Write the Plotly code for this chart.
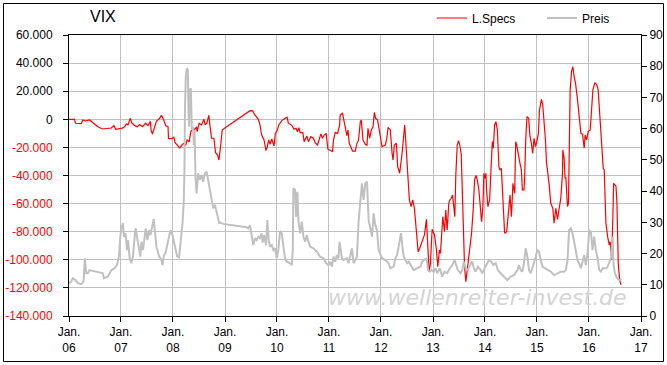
import plotly.graph_objects as go
import pandas as pd

# ---------------- data ----------------
# time as years elapsed since 1 Jan 2006
lspecs_years = [0.000,0.106,0.125,0.235,0.266,0.318,0.395,0.459,0.555,0.640,0.814,0.864,0.897,1.007,1.070,1.103,1.134,1.180,1.205,1.263,
1.315,1.359,1.411,1.475,1.519,1.566,1.577,1.604,1.649,1.681,1.745,1.778,1.822,1.861,1.905,1.913,1.971,2.015,2.040,2.098,
2.131,2.183,2.214,2.246,2.271,2.310,2.343,2.376,2.420,2.453,2.464,2.503,2.549,2.594,2.619,2.651,2.690,2.709,2.742,2.786,
2.819,2.858,2.883,2.916,2.946,3.031,3.417,3.481,3.533,3.571,3.641,3.673,3.706,3.751,3.789,3.814,3.841,3.866,3.899,3.943,
3.968,4.007,4.034,4.092,4.155,4.194,4.219,4.285,4.329,4.368,4.393,4.420,4.445,4.497,4.522,4.574,4.605,4.651,4.701,4.734,
4.778,4.817,4.844,4.875,4.907,4.946,4.979,5.068,5.087,5.120,5.164,5.203,5.216,5.260,5.293,5.318,5.345,5.364,5.390,5.422,
5.453,5.505,5.538,5.569,5.602,5.621,5.654,5.698,5.731,5.750,5.781,5.814,5.847,5.872,5.897,5.935,5.968,6.001,6.020,6.084,
6.117,6.136,6.180,6.213,6.232,6.257,6.296,6.321,6.359,6.406,6.437,6.456,6.475,6.502,6.514,6.546,6.579,6.610,6.643,6.676,
6.714,6.745,6.791,6.836,6.874,6.907,6.926,6.951,6.984,7.029,7.067,7.092,7.125,7.144,7.189,7.221,7.246,7.273,7.304,7.324,
7.351,7.376,7.401,7.420,7.439,7.466,7.491,7.516,7.543,7.555,7.582,7.607,7.632,7.671,7.709,7.742,7.775,7.800,7.825,7.852,
7.883,7.916,7.935,7.960,7.979,7.998,8.018,8.031,8.056,8.089,8.122,8.141,8.160,8.185,8.211,8.238,8.268,8.288,8.315,8.340,
8.378,8.417,8.461,8.481,8.508,8.538,8.571,8.591,8.610,8.635,8.654,8.673,8.700,8.720,8.750,8.764,8.783,8.808,8.841,8.866,
8.893,8.918,8.943,8.970,8.995,9.028,9.047,9.086,9.111,9.136,9.163,9.182,9.213,9.232,9.265,9.304,9.329,9.362,9.394,9.425,
9.458,9.491,9.497,9.522,9.541,9.555,9.587,9.606,9.618,9.638,9.664,9.690,9.715,9.742,9.780,9.819,9.844,9.877,9.908,9.927,
9.954,9.985,10.023,10.050,10.075,10.114,10.152,10.177,10.210,10.243,10.274,10.293,10.326,10.359,10.390,10.409,10.436,10.461,10.474,10.519,
10.538,10.563,10.590,10.615]

lspecs_values = [0,0,-2800,-3000,-500,-1200,-500,-2400,-5300,-6900,-6200,-4500,-7100,-6500,-5300,-3300,-4000,700,-2500,-4500,
-5300,-3800,-5300,-2800,-4500,-1400,-7500,-10500,-4500,-1400,700,2900,-500,-4700,-5300,-13800,-13800,-12800,-16600,-19000,
-20400,-17800,-17000,-18500,-14700,-16000,-8800,-6500,-7200,-5300,-8800,-2800,-4000,0,-4000,-2800,2900,-4000,-13500,-13500,
-23800,-25500,-29000,-19000,-7600,-5300,4700,6100,6000,3300,0,-4000,-11200,-14700,-22300,-19500,-14700,-17800,-14000,-19000,
-10000,-7600,-4000,-900,700,1500,-2800,-4300,-7100,-6400,-8800,-6000,-9500,-9500,-15900,-11900,-15900,-12400,-13500,-16600,
-18300,-14200,-10500,-13500,-11200,-10000,-21300,-23000,-14700,-9300,-10000,-4500,3100,4300,-1700,-8800,-11700,-7600,-17100,-19900,
-22600,-22600,-17100,-14700,-1700,-500,-14700,-17800,-18500,-6400,-13500,-7600,-5300,5000,700,-500,-7600,-17100,-19500,-18300,
-12400,-5700,-7600,-24200,-29000,-18300,-17100,-33700,-38400,-24200,-13500,-4000,-14700,-33700,-36000,-57400,-62200,-57400,-63300,-80000,
-94200,-91800,-87100,-82300,-71200,-90700,-108500,-102500,-78300,-82300,-93000,-104900,-93000,-95400,-69300,-80000,-64500,-78800,-59800,-57400,
-56200,-53900,-62200,-69300,-39900,-18300,-15200,-18300,-24700,-40800,-66900,-104900,-115600,-101600,-93000,-81100,-63300,-43200,-39900,-43200,
-50300,-64500,-72900,-62200,-38400,-42000,-38400,-50300,-62200,-57400,-32500,-15900,-20600,-4000,-1700,-7600,-33700,-36100,-34900,-55100,
-81100,-80000,-64500,-53900,-69300,-45600,-52700,-15900,-18300,-24200,-27700,-31300,-36000,-50300,-50300,-40800,-14700,1900,700,-12400,
-17100,-24200,-13500,-19500,-15900,-10000,6600,14200,10200,-500,-14700,-30100,-38400,-45600,-59800,-63300,-74000,-63300,-71200,-62200,
-56200,-38400,-21800,-27700,-42000,-41000,-62200,-59800,-17100,20900,33900,37400,30300,25600,13700,700,-10000,-10700,-20600,-11200,
-14700,-8800,-7600,6600,20900,26100,24400,20900,1900,-19500,-34900,-36000,-74000,-83500,-89500,-87100,-100100,-66900,-45600,-47500,
-59800,-102500,-114400,-117900]

preis_years = [0.000,0.042,0.073,0.125,0.170,0.235,0.280,0.305,0.332,0.363,0.395,0.652,0.671,0.748,0.814,0.877,0.922,0.960,0.987,1.007,
1.037,1.057,1.089,1.115,1.134,1.167,1.199,1.230,1.263,1.282,1.307,1.340,1.373,1.392,1.423,1.456,1.475,1.508,1.539,1.566,
1.604,1.629,1.654,1.681,1.732,1.778,1.797,1.822,1.861,1.905,1.951,1.990,2.034,2.079,2.117,2.150,2.183,2.208,2.221,2.231,
2.246,2.266,2.285,2.298,2.310,2.324,2.343,2.362,2.387,2.401,2.414,2.433,2.453,2.484,2.516,2.549,2.580,2.613,2.646,2.676,
2.709,2.742,2.773,2.806,2.838,2.869,2.889,2.921,2.966,3.417,3.448,3.481,3.513,3.544,3.577,3.610,3.641,3.673,3.706,3.725,
3.751,3.789,3.814,3.841,3.866,3.899,3.930,3.963,3.995,4.026,4.059,4.092,4.123,4.155,4.188,4.252,4.285,4.304,4.315,4.348,
4.368,4.393,4.412,4.445,4.478,4.508,4.541,4.574,4.605,4.638,4.701,4.767,4.830,4.894,4.946,4.990,5.023,5.056,5.087,5.120,
5.152,5.183,5.203,5.249,5.280,5.345,5.376,5.409,5.442,5.472,5.505,5.538,5.569,5.602,5.634,5.665,5.698,5.731,5.762,5.795,
5.827,5.858,5.891,5.924,5.954,6.020,6.084,6.147,6.180,6.244,6.277,6.309,6.354,6.386,6.412,6.437,6.469,6.502,6.533,6.566,
6.629,6.695,6.759,6.791,6.822,6.874,6.907,6.938,6.971,7.015,7.048,7.081,7.131,7.177,7.221,7.273,7.324,7.370,7.414,7.439,
7.478,7.530,7.563,7.594,7.626,7.671,7.709,7.756,7.786,7.819,7.863,7.916,7.948,7.993,8.045,8.076,8.122,8.160,8.205,8.249,
8.301,8.365,8.430,8.494,8.558,8.623,8.654,8.687,8.720,8.750,8.783,8.816,8.847,8.880,8.913,8.943,8.976,9.009,9.040,9.073,
9.105,9.150,9.202,9.265,9.329,9.394,9.458,9.522,9.555,9.587,9.618,9.651,9.684,9.715,9.748,9.780,9.811,9.844,9.877,9.908,
9.940,9.973,10.004,10.037,10.069,10.100,10.133,10.166,10.197,10.229,10.262,10.326,10.359,10.390,10.422,10.455,10.474,10.499,10.538,10.583,
10.628]

preis_values = [10.5,11.0,12.1,11.5,10.5,10.2,11.0,18.5,13.7,13.7,14.7,13.7,12.1,12.6,14.7,15.3,16.3,19.0,25.4,28.1,
29.7,25.4,26.5,21.1,24.3,18.5,16.9,19.0,25.4,28.1,25.4,21.7,19.0,23.8,21.1,25.4,28.1,24.3,27.5,25.9,
29.1,31.0,27.0,22.2,19.2,17.9,16.3,19.0,20.6,23.8,27.5,25.9,22.7,19.2,18.8,24.3,29.7,37.2,46.8,67.0,
76.7,79.3,78.8,66.0,60.6,72.4,72.9,59.6,60.6,54.8,59.6,44.6,39.3,45.7,43.6,45.2,43.0,45.7,46.2,43.6,
40.4,37.2,34.5,35.6,32.9,31.3,29.7,29.9,29.5,28.4,28.1,29.1,25.4,22.7,24.9,24.3,25.4,24.9,26.5,23.5,
25.9,22.7,30.7,24.3,22.2,22.7,21.1,21.7,18.5,21.1,27.3,26.5,22.2,18.5,17.4,16.9,16.3,21.1,40.9,40.4,
31.8,39.8,30.7,26.5,30.2,25.4,23.8,25.9,23.8,22.2,21.7,20.6,19.0,18.5,16.9,16.3,17.4,15.8,19.0,17.4,
19.5,18.5,23.8,18.5,17.9,18.5,16.9,19.5,21.7,16.9,17.9,19.0,30.2,38.2,42.5,37.2,42.5,43.0,30.7,28.1,
25.4,32.9,29.1,27.5,21.1,18.5,17.9,16.9,15.3,15.8,18.5,19.5,23.3,26.5,22.2,19.0,17.9,16.9,17.4,16.3,
14.7,15.3,15.8,17.4,17.9,18.5,14.7,14.2,14.7,14.2,15.3,13.7,15.3,12.6,14.2,13.7,15.3,16.3,17.9,16.3,
14.7,13.7,14.7,17.4,15.3,14.7,16.3,17.4,15.3,14.2,15.8,14.7,13.7,15.3,16.9,17.9,17.4,16.3,16.9,14.7,
13.7,12.6,11.5,12.6,13.1,14.7,16.3,14.7,14.2,16.9,21.7,19.0,14.7,13.7,15.3,16.9,19.0,21.1,20.6,17.9,
15.8,15.3,14.7,14.2,13.1,13.7,14.2,14.2,14.7,17.9,27.5,28.1,26.5,23.8,20.6,17.9,16.9,15.3,17.4,19.5,
16.3,20.1,27.5,27.0,21.1,25.4,21.1,18.5,14.7,14.2,15.3,15.3,15.8,16.9,18.5,25.4,16.3,13.7,12.1,11.5,
11.8]

left_ticks = [60000, 40000, 20000, 0, -20000, -40000, -60000, -80000, -100000, -120000, -140000]
right_ticks = [0, 10, 20, 30, 40, 50, 60, 70, 80, 90]
x_tick_years = list(range(2006, 2018))

# ---------------- helpers ----------------
start = pd.Timestamp("2006-01-01")
def to_dates(years):
    return [start + pd.Timedelta(days=y * 365.25) for y in years]

def fmt_de(v):
    s = f"{abs(v):,}".replace(",", ".")
    if v < 0:
        return f'<span style="color:#ff0000">-{s}</span>'
    return s

FONT = "Liberation Sans, Arial, sans-serif"

fig = go.Figure()
fig.add_trace(go.Scatter(
    x=to_dates(preis_years), y=preis_values, name="Preis", yaxis="y2",
    mode="lines", line=dict(color="#c0c0c0", width=2), legendrank=2))
fig.add_trace(go.Scatter(
    x=to_dates(lspecs_years), y=lspecs_values, name="L.Specs", yaxis="y",
    mode="lines", line=dict(color="#ff0000", width=1.2), legendrank=1))

W, H = 667, 365
L, R, T, B = 69, 26, 35, 49
pw, ph = W - L - R, H - T - B

def px_to_paper_x(px):
    return (px - L) / pw
def px_to_paper_y(py):
    return (H - B - py) / ph

fig.update_layout(
    width=W, height=H, autosize=False,
    margin=dict(l=L, r=R, t=T, b=B, pad=0, autoexpand=False),
    paper_bgcolor="white", plot_bgcolor="white",
    font=dict(family=FONT, size=12, color="black"),
    showlegend=True,
    legend=dict(orientation="h", x=px_to_paper_x(432), y=px_to_paper_y(18),
                xanchor="left", yanchor="middle", bgcolor="rgba(0,0,0,0)",
                itemwidth=30, font=dict(size=12, family=FONT), entrywidth=65,
                traceorder="normal"),
    xaxis=dict(
        type="date", range=[start, pd.Timestamp("2017-01-01")],
        tickvals=[pd.Timestamp(f"{y}-01-01") for y in x_tick_years],
        ticktext=[f"Jan.<br>{y % 100:02d}" for y in x_tick_years],
        showgrid=True, gridcolor="#c0c0c0", gridwidth=1,
        showline=True, linecolor="black", linewidth=1, mirror=True,
        ticks="outside", ticklen=5, tickcolor="black",
        tickfont=dict(size=12, family=FONT, color="black"),
        zeroline=False, fixedrange=True),
    yaxis=dict(
        range=[-140000, 60000], tickvals=left_ticks,
        ticktext=[fmt_de(v) for v in left_ticks],
        showgrid=True, gridcolor="#c0c0c0", gridwidth=1,
        showline=True, linecolor="black", linewidth=1,
        ticks="outside", ticklen=5, tickcolor="black",
        ticklabelstandoff=8,
        tickfont=dict(size=12, family=FONT, color="black"),
        zeroline=False),
    yaxis2=dict(
        range=[0, 90], tickvals=right_ticks, overlaying="y", side="right",
        showgrid=False, showline=True, linecolor="black", linewidth=1,
        ticks="outside", ticklen=5, tickcolor="black",
        tickfont=dict(size=12, family=FONT, color="black"),
        zeroline=False),
    shapes=[dict(type="rect", xref="paper", yref="paper",
                 x0=px_to_paper_x(3.5), x1=px_to_paper_x(663.5),
                 y0=px_to_paper_y(361.5), y1=px_to_paper_y(3.5),
                 line=dict(color="black", width=1), fillcolor="rgba(0,0,0,0)",
                 layer="above")],
    annotations=[
        dict(text="VIX", xref="paper", yref="paper",
             x=px_to_paper_x(88), y=px_to_paper_y(17), xanchor="left", yanchor="middle",
             showarrow=False, font=dict(size=16, family=FONT, color="black")),
        dict(text="www.wellenreiter-invest.de", xref="paper", yref="paper",
             x=px_to_paper_x(477), y=px_to_paper_y(297), xanchor="center", yanchor="middle",
             showarrow=False,
             font=dict(size=22, family="DejaVu Sans, Verdana, sans-serif", color="#d4d4d4",
                       style="italic")),
    ],
)

fig.write_html("out.html",
               config={"displayModeBar": False},
               post_script="document.body.style.margin='0';document.body.style.overflow='hidden';")
